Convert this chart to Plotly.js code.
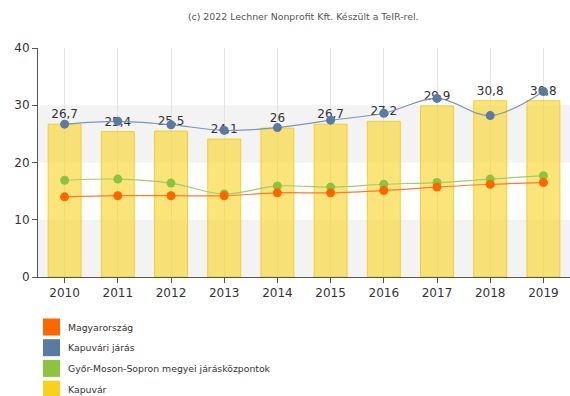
<!DOCTYPE html>
<html><head><meta charset="utf-8">
<script src="https://cdn.plot.ly/plotly-3.0.1.min.js"></script>
<style>html,body{margin:0;padding:0;background:#fff}#c{width:570px;height:396px}</style>
</head><body><div id="c"></div>
<script>
const years = ['2010','2011','2012','2013','2014','2015','2016','2017','2018','2019'];
const kapuvar = [26.7,25.4,25.5,24.1,26,26.7,27.2,29.9,30.8,30.8];
const kapuvarLabels = ['26,7','25,4','25,5','24,1','26','26,7','27,2','29,9','30,8','30,8'];
const jaras = [26.7,27.2,26.6,25.6,26.1,27.4,28.6,31.2,28.2,32.4];
const megyei = [16.9,17.1,16.4,14.5,15.9,15.7,16.2,16.5,17.1,17.7];
const orszag = [14.0,14.2,14.2,14.2,14.7,14.7,15.1,15.7,16.2,16.5];
const yTicks = [0,10,20,30,40];
const legendNames = ['Magyarország','Kapuvári járás','Győr-Moson-Sopron megyei járásközpontok','Kapuvár'];
const legendColors = ['#ff6600','#5b7aa3','#8cc43f','#f9d11c'];

const data = [
  {type:'bar', x:years, y:kapuvar, text:kapuvarLabels, textposition:'outside', cliponaxis:false,
   textfont:{family:'DejaVu Sans', size:12, color:'#333'},
   marker:{color:'rgba(249,213,40,0.62)', line:{color:'rgba(240,200,20,0.8)', width:1}},
   width:0.62, showlegend:false, hoverinfo:'skip'},
  {type:'scatter', mode:'lines+markers', x:years, y:megyei, line:{color:'#9ccf6a', width:1.2, shape:'spline'},
   marker:{color:'#8cc43f', size:9}, showlegend:false, cliponaxis:false},
  {type:'scatter', mode:'lines+markers', x:years, y:orszag, line:{color:'#ff7a30', width:1.2, shape:'spline'},
   marker:{color:'#ff6600', size:9}, showlegend:false, cliponaxis:false},
  {type:'scatter', mode:'lines+markers', x:years, y:jaras, line:{color:'#7d95b8', width:1.2, shape:'spline'},
   marker:{color:'#5b7aa3', size:9}, showlegend:false, cliponaxis:false}
];

const PL = 38, PR = 570, PT = 48, PB = 277;
const px = v => (v - PL) / (PR - PL);
const py = v => (PB - v) / (PB - PT);

const shapes = [
  {type:'rect', xref:'paper', yref:'y', x0:0, x1:1, y0:0, y1:10, fillcolor:'#f3f3f4', line:{width:0}, layer:'below'},
  {type:'rect', xref:'paper', yref:'y', x0:0, x1:1, y0:20, y1:30, fillcolor:'#f3f3f4', line:{width:0}, layer:'below'}
];
const annotations = [];
legendNames.forEach((n,i)=>{
  const yc = 327 + i*20.7;
  shapes.push({type:'rect', xref:'paper', yref:'paper',
    x0:px(43), x1:px(60), y0:py(yc+8.5), y1:py(yc-8.5),
    fillcolor:legendColors[i], line:{width:0}});
  annotations.push({xref:'paper', yref:'paper', x:px(66), y:py(yc), xanchor:'left', yanchor:'middle',
    text:n, showarrow:false, font:{family:'DejaVu Sans', size:9.3, color:'#333'}});
});

const layout = {
  width:570, height:396,
  margin:{l:PL, r:570-PR, t:PT, b:396-PB},
  paper_bgcolor:'#fff', plot_bgcolor:'#fff',
  font:{family:'DejaVu Sans', size:12, color:'#333'},
  title:{text:'(c) 2022 Lechner Nonprofit Kft. Készült a TeIR-rel.', font:{family:'DejaVu Sans', size:9.4, color:'#555'},
         x:0.532, xanchor:'center', y:0.957, yanchor:'middle'},
  xaxis:{type:'category', range:[-0.5,9.5], showline:true, linecolor:'#555', linewidth:1,
         ticks:'outside', ticklen:5, tickcolor:'#555', showgrid:true, gridcolor:'#e4e4e4',
         tickfont:{family:'DejaVu Sans', size:12, color:'#333'}},
  yaxis:{range:[0,40], tickvals:yTicks, showline:true, linecolor:'#555', linewidth:1,
         ticks:'outside', ticklen:5, tickcolor:'#555', showgrid:false, zeroline:false,
         tickfont:{family:'DejaVu Sans', size:12, color:'#333'}},
  bargap:0.38,
  shapes:shapes, annotations:annotations, showlegend:false
};
Plotly.newPlot('c', data, layout, {staticPlot:true});
</script></body></html>
